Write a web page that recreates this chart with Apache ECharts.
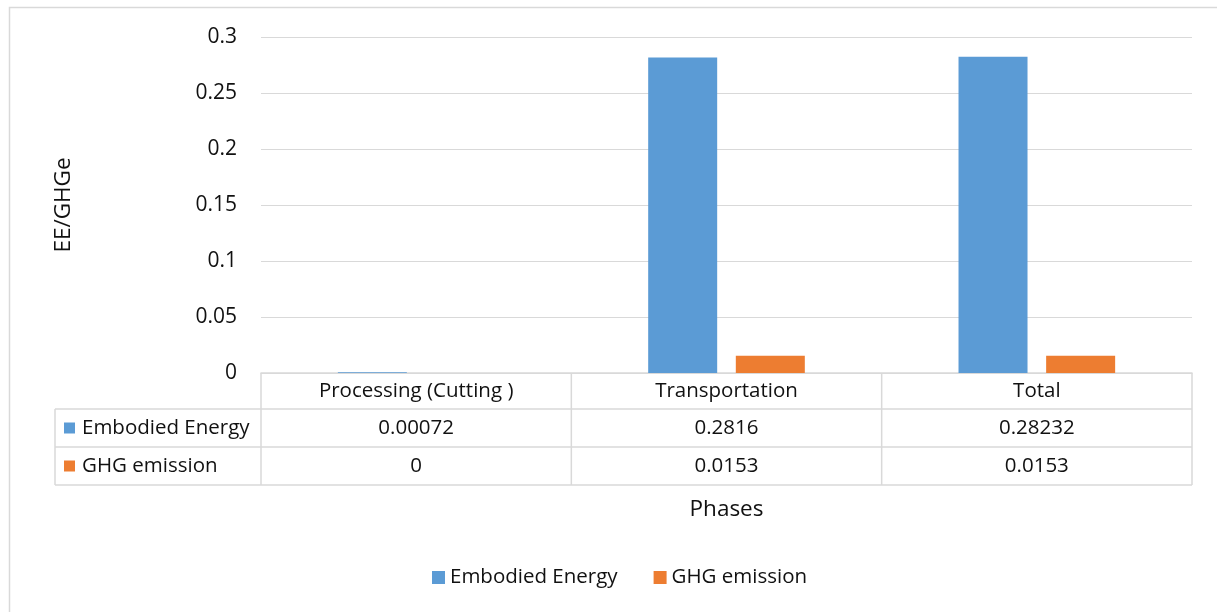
<!DOCTYPE html>
<html>
<head>
<meta charset="utf-8">
<script src="https://cdn.jsdelivr.net/npm/echarts@6/dist/echarts.min.js"></script>
<style>
  html, body { margin: 0; padding: 0; background: #fff; }
  #chart { width: 1217px; height: 612px; }
</style>
</head>
<body>
<div id="chart"></div>
<script>
// Phases of the process and the two measured quantities
const categories = ['Processing (Cutting )', 'Transportation', 'Total'];
const seriesNames = ['Embodied Energy', 'GHG emission'];
const embodiedEnergy = [0.00072, 0.2816, 0.28232];
const ghgEmission = [0, 0.0153, 0.0153];
const yTicks = [0, 0.05, 0.1, 0.15, 0.2, 0.25, 0.3];

const colors = ['#5B9BD5', '#ED7D31'];
const FONT = '"Open Sans", Lato, sans-serif';
const FS = 20.5;      // table and legend text
const FS_TICK = 21;   // value-axis labels
const FS_TITLE = 22.5;
const TEXT = '#111';
const LINE = '#d9d9d9';

// Plot rectangle (pixels)
const W = 1217, H = 612;
const plotLeft = 261, plotRight = 1192, plotTop = 37, plotBottom = 373;
const rowH = [36, 38, 38];
const tableLeft = 55;

const chart = echarts.init(document.getElementById('chart'), null, { renderer: 'canvas' });

const rows = [embodiedEnergy, ghgEmission];
const colW = (plotRight - plotLeft) / categories.length;
const rowY = [plotBottom];
rowH.forEach(h => rowY.push(rowY[rowY.length - 1] + h));

const graphics = [];
// outer chart frame
graphics.push({
  type: 'rect', silent: true,
  shape: { x: 9.5, y: 7.5, width: W + 20, height: H + 20 },
  style: { fill: null, stroke: LINE, lineWidth: 1.5 }
});
// data table horizontal rules
for (let r = 1; r < rowY.length; r++) {
  graphics.push({
    type: 'line', silent: true,
    shape: { x1: tableLeft, y1: rowY[r], x2: plotRight, y2: rowY[r] },
    style: { stroke: LINE, lineWidth: 1.5 }
  });
}
// vertical rules
graphics.push({
  type: 'line', silent: true,
  shape: { x1: tableLeft, y1: rowY[1], x2: tableLeft, y2: rowY[3] },
  style: { stroke: LINE, lineWidth: 1.5 }
});
for (let c = 0; c <= categories.length; c++) {
  const x = plotLeft + c * colW;
  graphics.push({
    type: 'line', silent: true,
    shape: { x1: x, y1: rowY[0], x2: x, y2: rowY[3] },
    style: { stroke: LINE, lineWidth: 1.5 }
  });
}
// header row: category names
categories.forEach((name, c) => {
  graphics.push({
    type: 'text', silent: true,
    x: plotLeft + (c + 0.5) * colW, y: (rowY[0] + rowY[1]) / 2,
    style: { text: name, font: FS + 'px ' + FONT, fill: TEXT, align: 'center', verticalAlign: 'middle' }
  });
});
// series rows: legend key, name and values
rows.forEach((vals, r) => {
  const cy = (rowY[r + 1] + rowY[r + 2]) / 2;
  graphics.push({
    type: 'rect', silent: true,
    shape: { x: 64, y: cy - 5.5, width: 11, height: 11 },
    style: { fill: colors[r] }
  });
  graphics.push({
    type: 'text', silent: true,
    x: 82, y: cy,
    style: { text: seriesNames[r], font: FS + 'px ' + FONT, fill: TEXT, align: 'left', verticalAlign: 'middle' }
  });
  vals.forEach((v, c) => {
    graphics.push({
      type: 'text', silent: true,
      x: plotLeft + (c + 0.5) * colW, y: cy,
      style: { text: String(v), font: FS + 'px ' + FONT, fill: TEXT, align: 'center', verticalAlign: 'middle' }
    });
  });
});

const option = {
  backgroundColor: '#fff',
  animation: false,
  textStyle: { fontFamily: FONT },
  grid: { left: plotLeft, right: W - plotRight, top: plotTop, bottom: H - plotBottom, containLabel: false },
  legend: {
    data: seriesNames,
    bottom: 19,
    left: 427,
    icon: 'rect',
    itemWidth: 13,
    itemHeight: 13,
    itemGap: 36,
    textStyle: { fontSize: FS, color: TEXT, fontFamily: FONT }
  },
  xAxis: {
    type: 'category',
    data: categories,
    name: 'Phases',
    nameLocation: 'middle',
    nameGap: 125,
    nameTextStyle: { fontSize: FS_TITLE, color: TEXT, fontFamily: FONT },
    axisLine: { show: true, lineStyle: { color: LINE, width: 1.5 } },
    axisTick: { show: false },
    axisLabel: { show: false }
  },
  yAxis: {
    type: 'value',
    min: yTicks[0],
    max: yTicks[yTicks.length - 1],
    interval: yTicks[1] - yTicks[0],
    name: 'EE/GHGe',
    nameLocation: 'middle',
    nameRotate: 90,
    nameGap: 186,
    nameTextStyle: { fontSize: FS_TITLE, color: TEXT, fontFamily: FONT },
    axisLine: { show: false },
    axisTick: { show: false },
    axisLabel: { fontSize: FS_TICK, color: TEXT, margin: 24, fontFamily: FONT },
    splitLine: { lineStyle: { color: LINE, width: 1.2 } }
  },
  series: [
    {
      name: seriesNames[0], type: 'bar', data: embodiedEnergy,
      barWidth: 69, barGap: '27%',
      itemStyle: { color: colors[0] }
    },
    {
      name: seriesNames[1], type: 'bar', data: ghgEmission,
      barWidth: 69,
      itemStyle: { color: colors[1] }
    }
  ],
  graphic: graphics
};

chart.setOption(option);
</script>
</body>
</html>
